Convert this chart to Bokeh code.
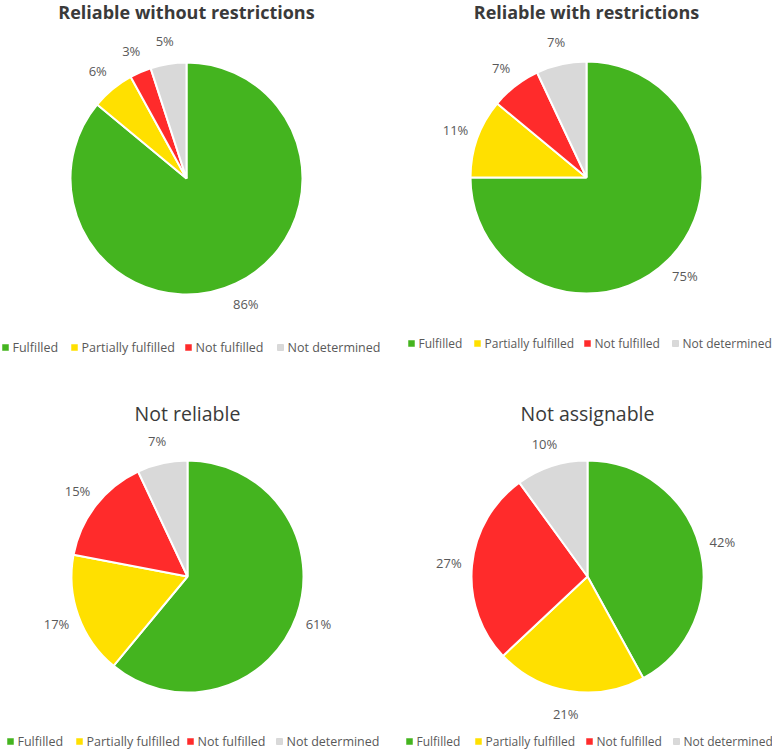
import math

from bokeh.core.properties import value
from bokeh.embed import file_html
from bokeh.models import ColumnDataSource, Range1d
from bokeh.plotting import figure
from bokeh.resources import INLINE

# ---- data -------------------------------------------------------------
categories = ["Fulfilled", "Partially fulfilled", "Not fulfilled", "Not determined"]
colors = ["#44b41f", "#ffe000", "#ff2b2b", "#d9d9d9"]
marker_edges = ["#44b41f", "#ffe000", "#ff2b2b", "#c4c4c4"]

titles = [
    "Reliable without restrictions",
    "Reliable with restrictions",
    "Not reliable",
    "Not assignable",
]
shares_reliable_without = [86, 6, 3, 5]
shares_reliable_with = [75, 11, 7, 7]
shares_not_reliable = [61, 17, 15, 7]
shares_not_assignable = [42, 21, 27, 10]
shares = [
    shares_reliable_without,
    shares_reliable_with,
    shares_not_reliable,
    shares_not_assignable,
]

# ---- layout (pixel positions measured from the top-left corner) -------
W, H = 772, 750
centers = [(186, 178), (586, 177), (187, 576), (587, 576)]
radius = 116
title_y = [11, 11, 413, 413]
title_bold = [True, True, False, False]
title_size = ["18px", "18px", "19.5px", "19.5px"]
legend_markers = [
    [5, 74, 188, 280],
    [411, 477, 587, 675],
    [10, 79, 190, 279],
    [409, 478, 589, 676],
]
legend_y = [347, 343, 741, 741]
legend_size = ["12.5px", "12px", "12.5px", "12px"]

FONT = "Open Sans"
TEXT_COLOR = "#595959"

p = figure(
    width=W,
    height=H,
    x_range=Range1d(0, W),
    y_range=Range1d(0, H),
    output_backend="svg",
    toolbar_location=None,
    x_axis_location=None,
    y_axis_location=None,
    min_border=0,
)
p.grid.visible = False
p.outline_line_color = None
p.background_fill_color = "white"
p.border_fill_color = "white"


def fy(top):
    """Convert a top-based pixel row to the plot's upward y coordinate."""
    return H - top


for i, vals in enumerate(shares):
    cx, cy = centers[i]
    total = float(sum(vals))
    starts, ends, lx, ly, labels = [], [], [], [], []
    acc = 0.0
    for v in vals:
        a0 = math.pi / 2 - 2 * math.pi * acc / total
        acc += v
        a1 = math.pi / 2 - 2 * math.pi * acc / total
        starts.append(a0)
        ends.append(a1)
        mid = (a0 + a1) / 2
        d = radius * 1.2
        lx.append(cx + d * math.cos(mid))
        ly.append(fy(cy) + d * math.sin(mid))
        labels.append(f"{v}%")

    src = ColumnDataSource(
        dict(
            x=[cx] * len(vals),
            y=[fy(cy)] * len(vals),
            start=starts,
            end=ends,
            color=colors,
        )
    )
    p.wedge(
        x="x",
        y="y",
        radius=radius,
        start_angle="start",
        end_angle="end",
        direction="clock",
        fill_color="color",
        line_color="white",
        line_width=2,
        source=src,
    )

    # percentage labels just outside each slice
    p.text(
        x=lx,
        y=ly,
        text=labels,
        text_font=value(FONT),
        text_font_size="13px",
        text_color=TEXT_COLOR,
        text_align="center",
        text_baseline="middle",
    )

    # panel title
    p.text(
        x=[cx],
        y=[fy(title_y[i])],
        text=[titles[i]],
        text_font=value(FONT),
        text_font_size=title_size[i],
        text_font_style="bold" if title_bold[i] else "normal",
        text_color="#3a3a3a",
        text_align="center",
        text_baseline="middle",
    )

    # legend row
    mx = legend_markers[i]
    my = [fy(legend_y[i])] * len(categories)
    p.scatter(
        x=mx,
        y=my,
        marker="square",
        size=6,
        fill_color=colors,
        line_color=marker_edges,
        line_width=0.5,
    )
    p.text(
        x=[m + 7 for m in mx],
        y=my,
        text=categories,
        text_font=value(FONT),
        text_font_size=legend_size[i],
        text_color=TEXT_COLOR,
        text_align="left",
        text_baseline="middle",
    )

open("out.html", "w").write(file_html(p, INLINE))
